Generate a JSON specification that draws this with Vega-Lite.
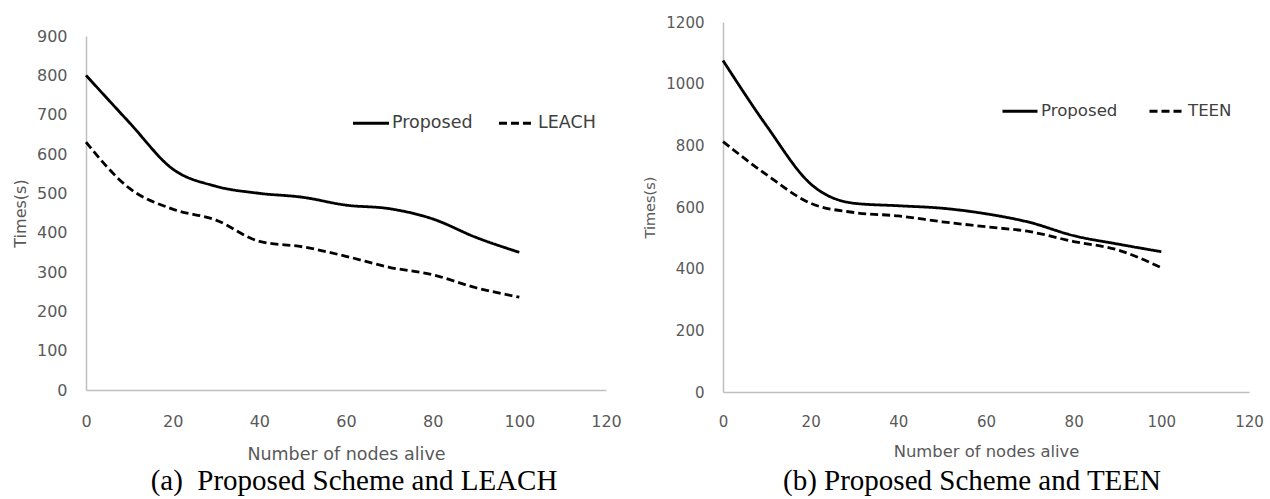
{
  "$schema": "https://vega.github.io/schema/vega-lite/v6.json",
  "background": "white",
  "padding": {"left": 12, "top": 15, "right": 0, "bottom": 0},
  "spacing": 20,
  "config": {"view": {"stroke": null}, "font": "DejaVu Sans"},
  "datasets": {
    "leach": [
      {"nodes": 0, "time": 800, "series": "Proposed"},
      {"nodes": 10, "time": 680, "series": "Proposed"},
      {"nodes": 20, "time": 562, "series": "Proposed"},
      {"nodes": 30, "time": 518, "series": "Proposed"},
      {"nodes": 40, "time": 500, "series": "Proposed"},
      {"nodes": 50, "time": 490, "series": "Proposed"},
      {"nodes": 60, "time": 470, "series": "Proposed"},
      {"nodes": 70, "time": 461, "series": "Proposed"},
      {"nodes": 80, "time": 435, "series": "Proposed"},
      {"nodes": 90, "time": 388, "series": "Proposed"},
      {"nodes": 100, "time": 350, "series": "Proposed"},
      {"nodes": 0, "time": 630, "series": "LEACH"},
      {"nodes": 10, "time": 513, "series": "LEACH"},
      {"nodes": 20, "time": 460, "series": "LEACH"},
      {"nodes": 30, "time": 432, "series": "LEACH"},
      {"nodes": 40, "time": 378, "series": "LEACH"},
      {"nodes": 50, "time": 364, "series": "LEACH"},
      {"nodes": 60, "time": 340, "series": "LEACH"},
      {"nodes": 70, "time": 312, "series": "LEACH"},
      {"nodes": 80, "time": 293, "series": "LEACH"},
      {"nodes": 90, "time": 260, "series": "LEACH"},
      {"nodes": 100, "time": 236, "series": "LEACH"}
    ],
    "teen": [
      {"nodes": 0, "time": 1075, "series": "Proposed"},
      {"nodes": 10, "time": 862, "series": "Proposed"},
      {"nodes": 20, "time": 675, "series": "Proposed"},
      {"nodes": 30, "time": 612, "series": "Proposed"},
      {"nodes": 40, "time": 604, "series": "Proposed"},
      {"nodes": 50, "time": 596, "series": "Proposed"},
      {"nodes": 60, "time": 578, "series": "Proposed"},
      {"nodes": 70, "time": 550, "series": "Proposed"},
      {"nodes": 80, "time": 507, "series": "Proposed"},
      {"nodes": 90, "time": 480, "series": "Proposed"},
      {"nodes": 100, "time": 455, "series": "Proposed"},
      {"nodes": 0, "time": 812, "series": "TEEN"},
      {"nodes": 10, "time": 704, "series": "TEEN"},
      {"nodes": 20, "time": 612, "series": "TEEN"},
      {"nodes": 30, "time": 582, "series": "TEEN"},
      {"nodes": 40, "time": 571, "series": "TEEN"},
      {"nodes": 50, "time": 552, "series": "TEEN"},
      {"nodes": 60, "time": 536, "series": "TEEN"},
      {"nodes": 70, "time": 520, "series": "TEEN"},
      {"nodes": 80, "time": 488, "series": "TEEN"},
      {"nodes": 90, "time": 461, "series": "TEEN"},
      {"nodes": 100, "time": 403, "series": "TEEN"}
    ]
  },
  "hconcat": [
    {
      "width": 520,
      "height": 368,
      "data": {"name": "leach"},
      "title": {"text": "(a)\u00a0\u00a0Proposed Scheme and LEACH", "orient": "bottom", "anchor": "middle", "frame": "group", "dx": 8, "offset": 4, "font": "Liberation Serif", "fontSize": 29, "fontWeight": "normal", "color": "black"},
      "mark": {"type": "line", "interpolate": "monotone", "color": "black", "strokeWidth": 2.8},
      "encoding": {
        "x": {"field": "nodes", "type": "quantitative",
          "scale": {"domain": [0, 120], "nice": false},
          "axis": {"values": [0, 20, 40, 60, 80, 100, 120], "title": "Number of nodes alive", "grid": false, "ticks": false, "labelFlush": false, "labelOverlap": false, "domainColor": "#BFBFBF", "domainWidth": 1.5, "labelFont": "DejaVu Sans", "labelFontSize": 16, "labelColor": "#595959", "labelPadding": 23, "titleFont": "DejaVu Sans", "titleFontSize": 17.5, "titleFontWeight": "normal", "titleColor": "#595959", "titlePadding": 16}},
        "y": {"field": "time", "type": "quantitative",
          "scale": {"domain": [0, 900], "range": [368, 14], "nice": false},
          "axis": {"values": [0, 100, 200, 300, 400, 500, 600, 700, 800, 900], "format": "d", "title": "Times(s)", "grid": false, "ticks": false, "domainColor": "#BFBFBF", "domainWidth": 1.5, "labelFont": "DejaVu Sans", "labelFontSize": 16, "labelColor": "#595959", "labelPadding": 19, "titleFont": "DejaVu Sans", "titleFontSize": 16, "titleFontWeight": "normal", "titleColor": "#595959", "titlePadding": 8}},
        "strokeDash": {"field": "series", "type": "nominal",
          "scale": {"domain": ["Proposed", "LEACH"], "range": [[1, 0], [8, 4]]},
          "legend": {"orient": "none", "legendX": 265, "legendY": 81, "direction": "horizontal", "title": null, "padding": 0, "symbolType": "stroke", "symbolSize": 1300, "symbolStrokeWidth": 3, "symbolStrokeColor": "black", "labelFont": "DejaVu Sans", "labelFontSize": 17.5, "labelColor": "#404040", "labelOffset": 1, "columnPadding": 19}}
      }
    },
    {
      "width": 526,
      "height": 370,
      "data": {"name": "teen"},
      "title": {"text": "(b) Proposed Scheme and TEEN", "orient": "bottom", "anchor": "middle", "frame": "group", "dx": -14, "offset": 8, "font": "Liberation Serif", "fontSize": 29, "fontWeight": "normal", "color": "black"},
      "mark": {"type": "line", "interpolate": "monotone", "color": "black", "strokeWidth": 2.8},
      "encoding": {
        "x": {"field": "nodes", "type": "quantitative",
          "scale": {"domain": [0, 120], "nice": false},
          "axis": {"values": [0, 20, 40, 60, 80, 100, 120], "title": "Number of nodes alive", "grid": false, "ticks": false, "labelFlush": false, "labelOverlap": false, "domainColor": "#BFBFBF", "domainWidth": 1.5, "labelFont": "DejaVu Sans", "labelFontSize": 15, "labelColor": "#595959", "labelPadding": 22, "titleFont": "DejaVu Sans", "titleFontSize": 16.4, "titleFontWeight": "normal", "titleColor": "#595959", "titlePadding": 14}},
        "y": {"field": "time", "type": "quantitative",
          "scale": {"domain": [0, 1200], "nice": false},
          "axis": {"values": [0, 200, 400, 600, 800, 1000, 1200], "format": "d", "title": "Times(s)", "grid": false, "ticks": false, "domainColor": "#BFBFBF", "domainWidth": 1.5, "labelFont": "DejaVu Sans", "labelFontSize": 15, "labelColor": "#595959", "labelPadding": 19, "titleFont": "DejaVu Sans", "titleFontSize": 14.5, "titleFontWeight": "normal", "titleColor": "#595959", "titlePadding": 8}},
        "strokeDash": {"field": "series", "type": "nominal",
          "scale": {"domain": ["Proposed", "TEEN"], "range": [[1, 0], [8, 4]]},
          "legend": {"orient": "none", "legendX": 278, "legendY": 70, "direction": "horizontal", "title": null, "padding": 0, "symbolType": "stroke", "symbolSize": 1225, "symbolStrokeWidth": 3, "symbolStrokeColor": "black", "labelFont": "DejaVu Sans", "labelFontSize": 16.6, "labelColor": "#404040", "labelOffset": 2, "columnPadding": 25}}
      }
    }
  ],
  "resolve": {"scale": {"strokeDash": "independent", "x": "independent", "y": "independent"}}
}
